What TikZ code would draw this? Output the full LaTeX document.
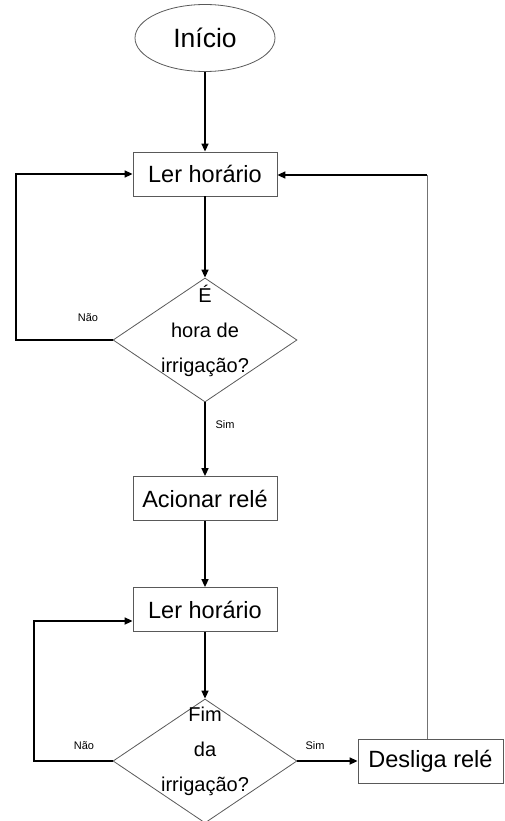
\documentclass[tikz,border=0pt]{standalone}
\usepackage{fontspec}
\setmainfont{Liberation Sans}
\usetikzlibrary{shapes.geometric,arrows.meta}
\begin{document}
\begin{tikzpicture}[x=1pt,y=-1pt,
  shapeline/.style={draw=black!65, line width=0.8pt},
  terminal/.style={shapeline, ellipse, minimum width=140pt, minimum height=67pt, inner sep=0pt, font=\fontsize{26.5}{31}\selectfont},
  procbox/.style={shapeline, rectangle, minimum width=144pt, minimum height=44pt, inner sep=0pt, font=\fontsize{23.5}{28}\selectfont},
  decision/.style={shapeline, diamond, minimum width=184pt, minimum height=124pt, inner sep=0pt},
  decisiontext/.style={align=center, inner sep=0pt, font=\fontsize{20}{35}\selectfont},
  flow/.style={line width=1.6pt, -{Triangle[length=8pt,width=7pt]}},
  tag/.style={font=\fontsize{11}{13}\selectfont}
]
\useasboundingbox (0,0) rectangle (504,821);

% blocks
\node[terminal] (start) at (205,38) {Início};
\node[procbox] (read1) at (205,174) {Ler horário};
\node[decision] (q1) at (205,340) {};
\node[decisiontext] (q1t) at (205,331) {É\\hora de\\irrigação?};
\node[procbox] (relay) at (205,498.5) {Acionar relé};
\node[procbox] (read2) at (205,609.5) {Ler horário};
\node[decision] (q2) at (205,761) {};
\node[decisiontext] (q2t) at (205,751) {Fim\\da\\irrigação?};
\node[procbox, minimum width=145pt] (off) at (430.5,761) {Desliga relé};

% branch labels
\node[tag] (no1) at (88,318) {Não};
\node[tag] (yes1) at (225,425) {Sim};
\node[tag] (no2) at (84,746) {Não};
\node[tag] (yes2) at (315,746) {Sim};

% loop corners
\coordinate (loop1) at (16,0);
\coordinate (loop2) at (34,0);
\coordinate (back) at (427,175);

% main flow
\draw[flow] (start) -- (read1);
\draw[flow] (read1) -- (q1.north);
\draw[flow] (q1.south) -- (relay.north);
\draw[flow] (relay) -- (read2);
\draw[flow] (read2) -- (q2.north);
\draw[flow] (q2.east) -- (off.west);

% "Não" loops
\draw[flow] (q1.west) -- (q1.west -| loop1) |- (read1.west);
\draw[flow] (q2.west) -- (q2.west -| loop2) |- ([yshift=-11.5pt]read2.west);

% return to start of cycle
\draw[line width=0.8pt, black!55] (back |- off.north) -- (back);
\draw[flow] (back) -- (read1.east |- back);
\end{tikzpicture}
\end{document}
